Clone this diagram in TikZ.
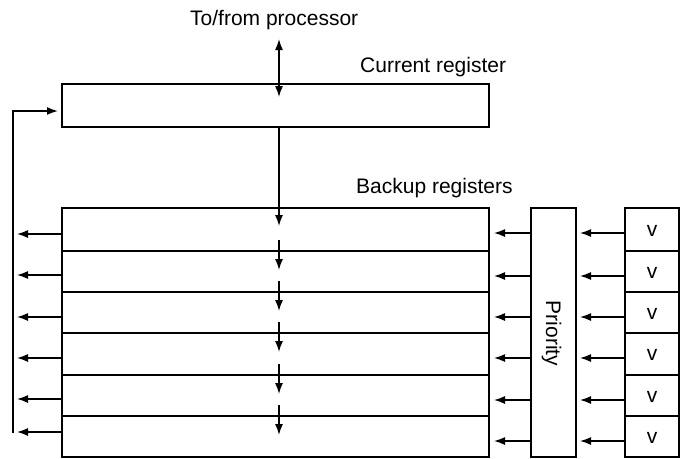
\documentclass[tikz,border=0pt]{standalone}
\usepackage{fontspec}
\setmainfont{Liberation Sans}
\usetikzlibrary{arrows.meta,calc}
\begin{document}
\begin{tikzpicture}[x=1pt,y=-1pt,
  box/.style={draw,line width=1.5pt,inner sep=0pt,outer sep=0pt,anchor=north west},
  arr/.style={line width=1.4pt,-{Latex[length=11pt,width=8pt]}},
  dbl/.style={line width=1.4pt,{Latex[length=11pt,width=8pt]}-{Latex[length=11pt,width=8pt]}},
  lbl/.style={font=\fontsize{21}{25}\selectfont,inner sep=0pt,anchor=base west},
  vtxt/.style={font=\fontsize{21}{24}\selectfont},
  ]
\useasboundingbox (0,0) rectangle (684,458);
\node[lbl] (tfp) at (190,25) {To/from processor};
\node[lbl] (crl) at (360,72) {Current register};
\node[lbl] (brl) at (356,193) {Backup registers};
\node[box,minimum width=427pt,minimum height=43pt] (cur) at (62,84) {};
\foreach \i/\t/\h in {1/208/43,2/251/41,3/292/41,4/333/42,5/375/41,6/416/41}{
  \node[box,minimum width=427pt,minimum height=\h pt] (r\i) at (62,\t) {};
  \node[box,minimum width=54pt,minimum height=\h pt] (v\i) at (625,\t) {};
  \node[vtxt,inner sep=0pt] (vt\i) at ($(v\i.center)+(0,1)$) {v};
}
\node[box,minimum width=45pt,minimum height=249pt] (pri) at (531,208) {};
\node[font=\fontsize{21}{25}\selectfont,rotate=-90,inner sep=0pt] (prt) at ($(pri.center)+(-2,1)$) {Priority};
\coordinate (busbot) at (13,433);
\coordinate (bustop) at (13,111);
% top double arrow
\draw[dbl] ([yshift=-9.5pt]tfp.south -| 279,0) -- ([yshift=-13pt]cur.north -| 279,0);
% current -> backup
\draw[arr] (cur.south -| 279,0) -- ([yshift=-18pt]r1.north -| 279,0);
\foreach \i in {2,...,6}{
  \draw[arr] ([yshift=11pt]r\i.north -| 279,0) -- ([yshift=-19pt]r\i.north -| 279,0);
}
% right side arrows
\foreach \i in {1,...,6}{
  \draw[arr,shorten >=5pt] ($(pri.west |- r\i.north)+(0,25)$) -- ($(r\i.north east)+(0,25)$);
  \draw[arr,shorten >=4pt] ($(v\i.north west)+(0,25)$) -- ($(pri.east |- v\i.north)+(0,25)$);
}
% left arrows
\foreach \i/\d in {1/26,2/24,3/25,4/25,5/24,6/16}{
  \draw[arr,shorten >=4pt] ($(r\i.north west)+(0,\d)$) coordinate (t\i) -- (t\i -| busbot);
}
\draw[arr,line width=1.6pt,shorten >=4pt] (busbot) -- (bustop) -- (bustop -| cur.west);
\end{tikzpicture}
\end{document}
